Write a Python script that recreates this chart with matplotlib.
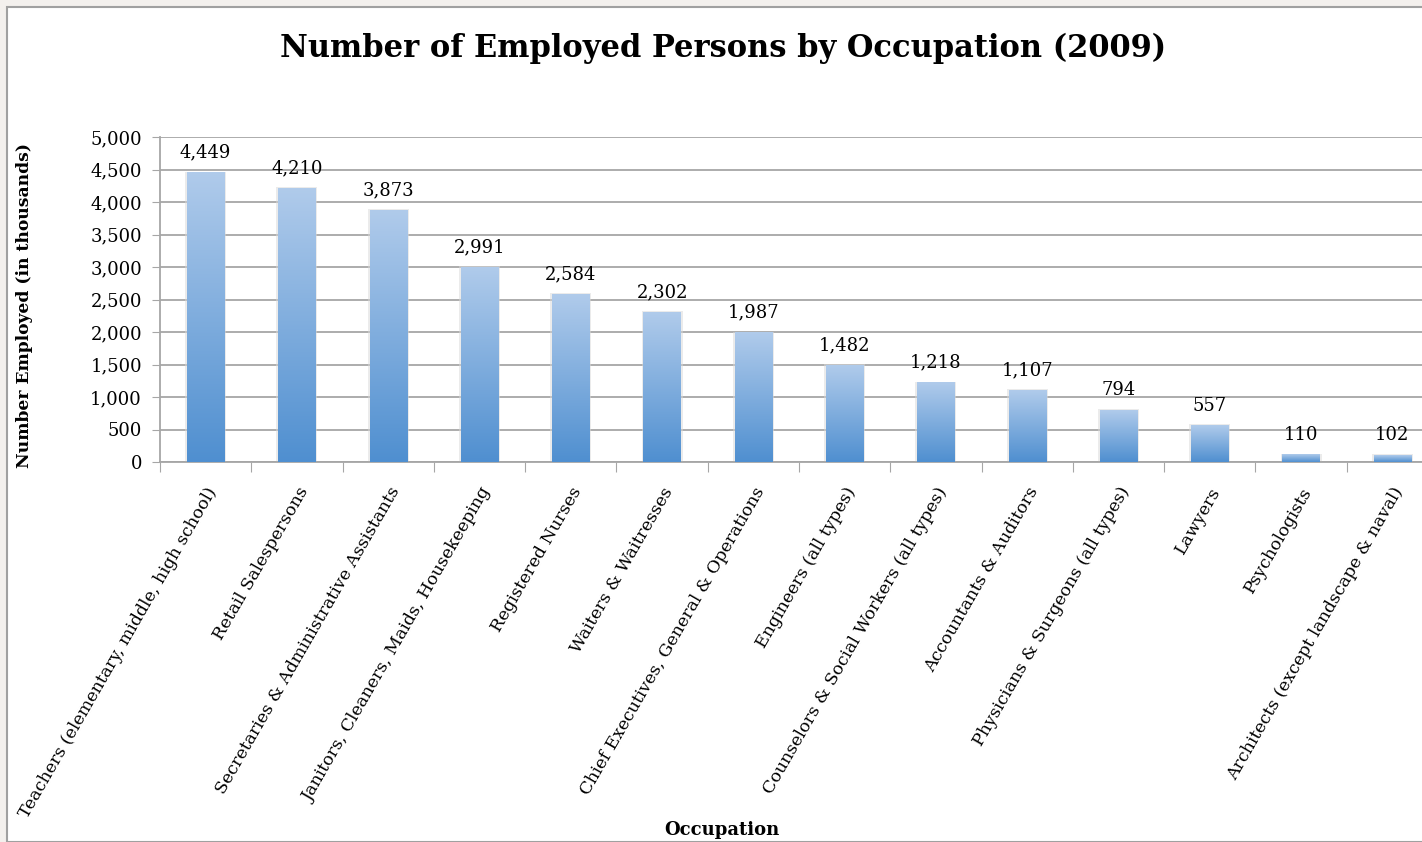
import numpy as np
import matplotlib.pyplot as plt
from matplotlib.patches import Rectangle
from matplotlib.colors import LinearSegmentedColormap
from matplotlib.ticker import FuncFormatter

# dados
ocupacoes = ['Teachers (elementary, middle, high school)', 'Retail Salespersons',
             'Secretaries & Administrative Assistants', 'Janitors, Cleaners, Maids, Housekeeping',
             'Registered Nurses', 'Waiters & Waitresses', 'Chief Executives, General & Operations',
             'Engineers (all types)', 'Counselors & Social Workers (all types)',
             'Accountants & Auditors', 'Physicians & Surgeons (all types)', 'Lawyers',
             'Psychologists', 'Architects (except landscape & naval)']
empregados = [4449, 4210, 3873, 2991, 2584, 2302, 1987, 1482, 1218, 1107, 794, 557, 110, 102]

plt.rcParams['font.family'] = ['DejaVu Serif']

fig = plt.figure(figsize=(14.22, 8.42), dpi=100, facecolor='#f3f0ed')
W, H = 1422, 842
fig.patches.append(Rectangle((7 / W, 0), 1, 1 - 7 / H, transform=fig.transFigure,
                             facecolor='white', edgecolor='#a0a0a0', lw=1.5, zorder=-5))

ax = fig.add_axes([160 / W, 380 / H, 1278 / W, 325 / H])
ax.set_facecolor('none')

x = np.arange(len(ocupacoes))
bars = ax.bar(x, empregados, width=0.41, color='none', zorder=3)

# gradiente vertical nas barras
cmap = LinearSegmentedColormap.from_list('azul', ['#4f8fd0', '#b0cbeb'])
grad = np.linspace(0, 1, 256).reshape(-1, 1)
for b in bars:
    x0, w, h = b.get_x(), b.get_width(), b.get_height()
    # sombra leve
    ax.add_patch(Rectangle((x0 - 0.02, 0), w + 0.04, h + 20, facecolor='#d8d8d8',
                           edgecolor='none', alpha=0.5, zorder=2))
    ax.imshow(grad, cmap=cmap, origin='lower', aspect='auto',
              extent=(x0, x0 + w, 0, h), zorder=3)

for xi, v in zip(x, empregados):
    ax.text(xi, v + 170, f'{v:,}', ha='center', va='bottom', fontsize=13, color='black')

ax.set_xlim(-0.5, len(ocupacoes) - 0.5)
ax.set_ylim(0, 5000)
ax.set_yticks(np.arange(0, 5001, 500))
ax.yaxis.set_major_formatter(FuncFormatter(lambda v, p: f'{int(v):,}'))
ax.grid(axis='y', color='#a6a6a6', lw=1.3, zorder=1)
ax.set_axisbelow(True)

for s in ['top', 'right']:
    ax.spines[s].set_visible(False)
for s in ['left', 'bottom']:
    ax.spines[s].set_color('#a6a6a6')
    ax.spines[s].set_linewidth(1.3)

ax.tick_params(axis='y', labelsize=13, length=6, color='#a6a6a6', pad=7)
ax.set_xticks(np.arange(-0.5, len(ocupacoes), 1))
ax.set_xticklabels([])
ax.tick_params(axis='x', which='major', length=7, color='#a6a6a6')
ax.set_xticks(x, minor=True)
ax.set_xticklabels(ocupacoes, minor=True, rotation=60, ha='right',
                   rotation_mode='anchor', fontsize=12.5)
ax.tick_params(axis='x', which='minor', length=0, pad=16)

fig.text(723 / W, 1 - 48 / H, 'Number of Employed Persons by Occupation (2009)',
         ha='center', va='center', fontsize=22, fontweight='bold')
fig.text(25 / W, 1 - 305 / H, 'Number Employed (in thousands)', rotation=90,
         ha='center', va='center', fontsize=12.3, fontweight='bold')
fig.text(722 / W, 1 - 830 / H, 'Occupation', ha='center', va='center',
         fontsize=13, fontweight='bold')

plt.savefig('out.png', dpi=100, facecolor=fig.get_facecolor())
